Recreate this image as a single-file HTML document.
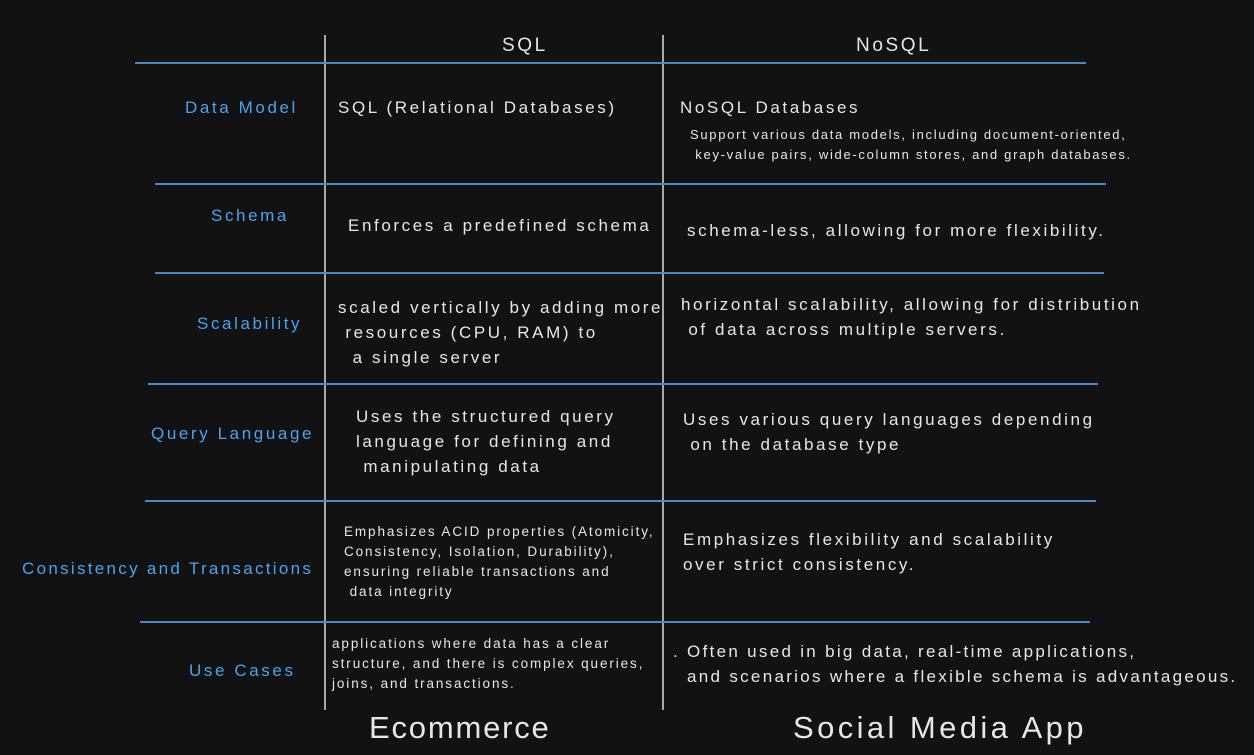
<!DOCTYPE html>
<html><head><meta charset="utf-8"><style>
body{margin:0;width:1254px;height:755px;background:#121212;overflow:hidden;position:relative;font-family:"Liberation Sans",sans-serif;color:#e6e6e6}
.h{position:absolute;height:2px;background:#4a86c8}
.v{position:absolute;width:2px;background:#a8a8a8;top:35px;height:675px}
.t{position:absolute;white-space:nowrap;font-size:17px;line-height:25px;letter-spacing:2.6px}
.b{color:#4aa3f0;letter-spacing:2.6px}
.s{font-size:13px;line-height:20px;letter-spacing:1.7px}
.xs{font-size:13.5px;line-height:20px;letter-spacing:1.9px}
.big{font-size:31px;line-height:36px;letter-spacing:2.5px}
</style></head><body>
<div class="v" style="left:324px"></div>
<div class="v" style="left:662px"></div>
<div class="h" style="left:135px;width:951px;top:62px"></div>
<div class="h" style="left:155px;width:951px;top:183px"></div>
<div class="h" style="left:155px;width:949px;top:272px"></div>
<div class="h" style="left:148px;width:950px;top:383px"></div>
<div class="h" style="left:145px;width:951px;top:500px"></div>
<div class="h" style="left:140px;width:950px;top:621px"></div>

<div class="t" style="left:502px;top:33px;font-size:19px">SQL</div>
<div class="t" style="left:856px;top:33px;font-size:19px">NoSQL</div>

<div class="t b" style="left:185px;top:95px">Data Model</div>
<div class="t b" style="left:211px;top:203px">Schema</div>
<div class="t b" style="left:197px;top:311px">Scalability</div>
<div class="t b" style="left:151px;top:421px">Query Language</div>
<div class="t b" style="left:22px;top:556px;letter-spacing:2.3px">Consistency and Transactions</div>
<div class="t b" style="left:189px;top:658px">Use Cases</div>

<div class="t" style="left:338px;top:95px">SQL (Relational Databases)</div>
<div class="t" style="left:348px;top:213px">Enforces a predefined schema</div>
<div class="t" style="left:338px;top:295px">scaled vertically by adding more<br>&nbsp;resources (CPU, RAM) to<br>&nbsp;&nbsp;a single server</div>
<div class="t" style="left:356px;top:404px">Uses the structured query<br>language for defining and<br>&nbsp;manipulating data</div>
<div class="t xs" style="left:344px;top:522px">Emphasizes ACID properties (Atomicity,<br>Consistency, Isolation, Durability),<br>ensuring reliable transactions and<br>&nbsp;data integrity</div>
<div class="t xs" style="left:332px;top:634px">applications where data has a clear<br>structure, and there is complex queries,<br>joins, and transactions.</div>

<div class="t" style="left:680px;top:95px">NoSQL Databases</div>
<div class="t s" style="left:690px;top:125px">Support various data models, including document-oriented,<br>&nbsp;key-value pairs, wide-column stores, and graph databases.</div>
<div class="t" style="left:687px;top:218px">schema-less, allowing for more flexibility.</div>
<div class="t" style="left:681px;top:292px">horizontal scalability, allowing for distribution<br>&nbsp;of data across multiple servers.</div>
<div class="t" style="left:683px;top:407px">Uses various query languages depending<br>&nbsp;on the database type</div>
<div class="t" style="left:683px;top:527px">Emphasizes flexibility and scalability<br>over strict consistency.</div>
<div class="t" style="left:673px;top:639px;letter-spacing:2.3px">. Often used in big data, real-time applications,<br>&nbsp;&nbsp;and scenarios where a flexible schema is advantageous.</div>

<div class="t big" style="left:369px;top:710px;letter-spacing:1.8px">Ecommerce</div>
<div class="t big" style="left:793px;top:710px;letter-spacing:3.4px">Social Media App</div>
</body></html>
